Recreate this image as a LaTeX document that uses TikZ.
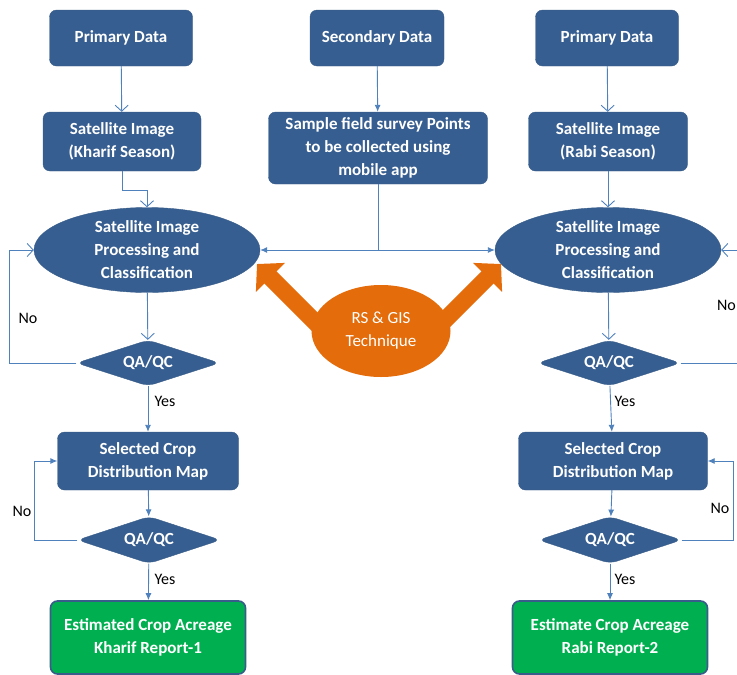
\documentclass[tikz,border=0pt]{standalone}
\usepackage{fontspec}
\setmainfont{Carlito}
\usetikzlibrary{arrows.meta}
\usetikzlibrary{shapes.geometric}
\usetikzlibrary{backgrounds}
\definecolor{boxblue}{HTML}{375E90}
\definecolor{boxedge}{HTML}{385D8A}
\definecolor{flowline}{HTML}{4F81BD}
\definecolor{rsorange}{HTML}{E46C0A}
\definecolor{repgreen}{HTML}{00B050}

\begin{document}
\begin{tikzpicture}[x=1pt,y=-1pt,
  box/.style={rectangle, rounded corners=7pt, fill=boxblue, draw=boxedge, text=white, align=center, inner sep=0pt, font=\bfseries\fontsize{17}{23}\selectfont},
  proc/.style={box, ellipse, minimum width=226pt, minimum height=85pt},
  qa/.style={box, diamond, aspect=3.1, minimum width=143pt, minimum height=46pt},
  report/.style={box, fill=repgreen, line width=1.6pt, minimum width=195pt, minimum height=73pt},
  tech/.style={ellipse, fill=rsorange, text=white, align=center, inner sep=0pt, minimum width=139pt, minimum height=92pt, font=\fontsize{17}{23}\selectfont},
  flow/.style={draw=flowline, line width=.9pt, -{Latex[length=7pt,width=6pt]}},
  flowo/.style={draw=flowline, line width=.9pt, -{Straight Barb[length=6pt,width=13pt]}},
  lbl/.style={inner sep=0pt, font=\fontsize{16}{18}\selectfont}]
\useasboundingbox (0,0) rectangle (737,675);
% left column (Kharif)
\node[box, minimum width=143pt, minimum height=56pt] (pdL) at (121,38) {Primary Data};
\node[box, minimum width=158pt, minimum height=59pt] (satL) at (122,141.5) {Satellite Image\\(Kharif Season)};
\node[proc] (procL) at (147,250) {Satellite Image\\Processing and\\Classification};
\node[qa] (qaL1) at (148,363) {QA/QC};
\node[box, minimum width=181pt, minimum height=58pt] (mapL) at (148,461) {Selected Crop\\Distribution Map};
\node[qa, minimum height=47pt] (qaL2) at (149,540) {QA/QC};
\node[report] (repL) at (148,637.5) {Estimated Crop Acreage\\Kharif Report-1};
% middle
\node[box, minimum width=134pt, minimum height=56pt] (sec) at (377,38) {Secondary Data};
\node[box, minimum width=219pt, minimum height=72pt] (sample) at (378,148) {Sample field survey Points\\to be collected using\\mobile app};
\node[tech] (rs) at (381,331) {RS \& GIS\\Technique};
% right column (Rabi)
\node[box, minimum width=143pt, minimum height=56pt] (pdR) at (607,38) {Primary Data};
\node[box, minimum width=159pt, minimum height=59pt] (satR) at (608,141.5) {Satellite Image\\(Rabi Season)};
\node[proc] (procR) at (608,250) {Satellite Image\\Processing and\\Classification};
\node[qa] (qaR1) at (609,363) {QA/QC};
\node[box, minimum width=189pt, minimum height=58pt] (mapR) at (613,461) {Selected Crop\\Distribution Map};
\node[qa, minimum height=47pt] (qaR2) at (610,540) {QA/QC};
\node[report] (repR) at (610,637.5) {Estimate Crop Acreage\\Rabi Report-2};

% block arrows behind the orange ellipse
\coordinate (tailL) at (325,332);
\coordinate (tipL) at (257,264);
\coordinate (tailR) at (433,332);
\coordinate (tipR) at (501,264);
\begin{scope}[on background layer]
\draw[rsorange, line width=17pt, -{Triangle[length=19pt,width=40pt]}] (tailL) -- (tipL);
\draw[rsorange, line width=17pt, -{Triangle[length=19pt,width=40pt]}] (tailR) -- (tipR);
\end{scope}

% connectors
\draw[flowo] (pdL) -- (satL);
\draw[flowo] (satL.south) -- ++(0,19) -| (procL.north);
\draw[flow] (sec) -- (sample);
\draw[flowo] (pdR) -- (satR);
\draw[flowo] (satR) -- (procR);
\coordinate (jn) at (sample.south |- procL.east);
\draw[draw=flowline, line width=.9pt] (sample.south) -- (jn);
\draw[flow] (jn) -- (procL.east);
\draw[flow] (jn) -- (procR.west);

\draw[flowo] (procL) -- (qaL1);
\draw[flowo] (qaL1.west) -- ++(-67,0) |- (procL.west);
\draw[flow] (qaL1) -- (mapL);
\draw[flow] (mapL) -- (qaL2);
\draw[flow] (qaL2.west) -- ++(-43,0) |- (mapL.west);
\draw[flow] (qaL2) -- (repL);

\draw[flowo] (procR) -- (qaR1);
\draw[flowo] (qaR1.east) -- ++(70,0) |- (procR.east);
\draw[flow] (qaR1) -- (mapR);
\draw[flow] (mapR) -- (qaR2);
\draw[flow] (qaR2.east) -- ++(52,0) |- (mapR.east);
\draw[flow] (qaR2) -- (repR);

% yes / no labels
\node[lbl] (noL1) at (28,318) {No};
\node[lbl] (yesL1) at (165,401) {Yes};
\node[lbl] (noL2) at (22,511) {No};
\node[lbl] (yesL2) at (165,579) {Yes};
\node[lbl, anchor=east] (noR1) at (736,305) {No};
\node[lbl] (yesR1) at (625,401) {Yes};
\node[lbl] (noR2) at (720,508) {No};
\node[lbl] (yesR2) at (625,579) {Yes};
\end{tikzpicture}
\end{document}
